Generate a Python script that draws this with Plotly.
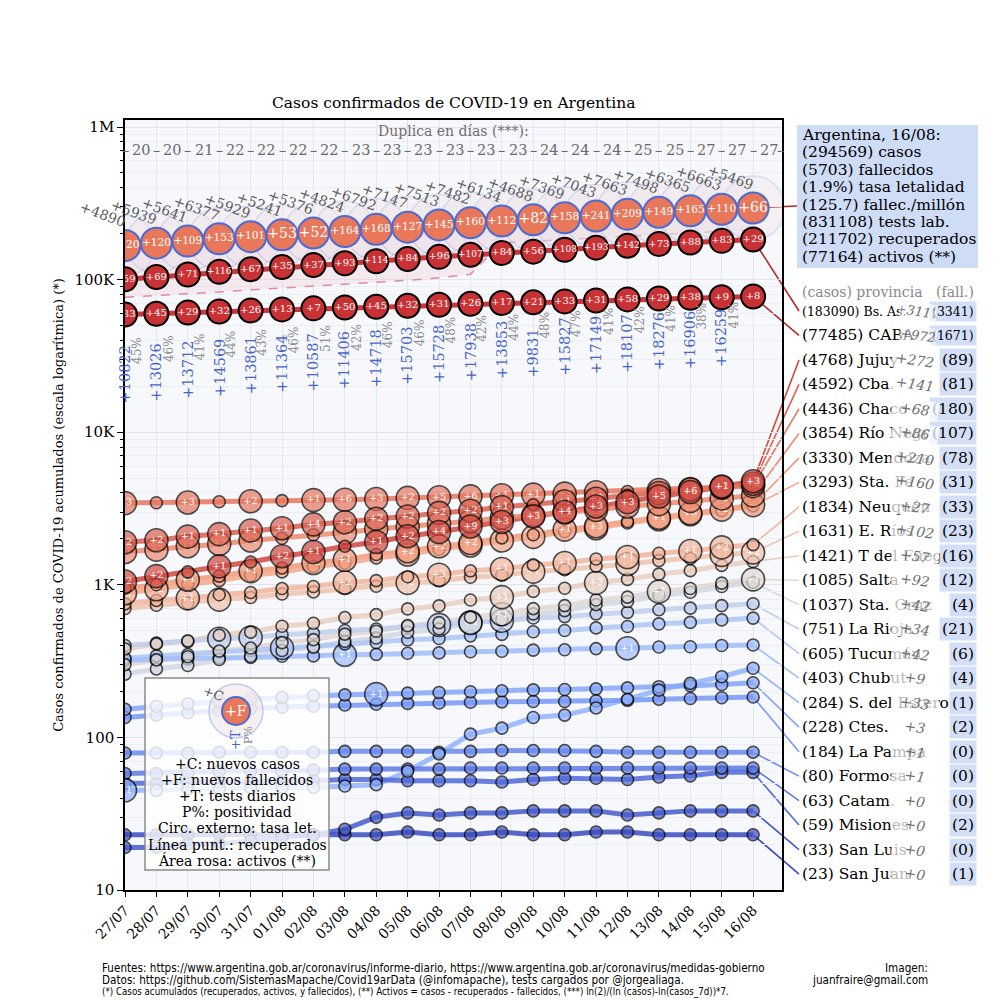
import math
import plotly.graph_objects as go

FONT = "DejaVu Serif"

# ---------------- data ----------------
dates = ["27/07", "28/07", "29/07", "30/07", "31/07", "01/08", "02/08", "03/08", "04/08", "05/08",
         "06/08", "07/08", "08/08", "09/08", "10/08", "11/08", "12/08", "13/08", "14/08", "15/08", "16/08"]

arg_cases = [167416, 173355, 178996, 185373, 191302, 196543, 201919, 206743, 213535, 220682, 228195,
             235677, 241811, 246499, 253868, 260911, 268574, 276072, 282437, 289100, 294569]
arg_new_cases = [4890, 5939, 5641, 6377, 5929, 5241, 5376, 4824, 6792, 7147, 7513, 7482, 6134, 4688,
                 7369, 7043, 7663, 7498, 6365, 6663, 5469]
arg_deaths = [3059, 3179, 3288, 3441, 3542, 3595, 3647, 3811, 3979, 4106, 4251, 4411, 4523, 4605,
              4763, 5004, 5213, 5362, 5527, 5637, 5703]
arg_new_deaths = [120, 120, 109, 153, 101, 53, 52, 164, 168, 127, 145, 160, 112, 82, 158, 241, 209,
                  149, 165, 110, 66]
arg_recovered = [76600, 78500, 80900, 83000, 85600, 88000, 90300, 93000, 95800, 99000, 103000, 108500,
                 174500, 178000, 183000, 188000, 193000, 198000, 202500, 207000, 211702]
tests_daily = [10822, 13026, 13712, 14569, 13861, 11364, 10587, 11406, 14718, 15703, 15728, 17938,
               13853, 9831, 15827, 17149, 18107, 18276, 16906, 16259]
positivity = [45, 46, 41, 44, 43, 46, 51, 42, 46, 46, 48, 42, 44, 48, 47, 41, 42, 41, 38, 41]
doubling_days = [20, 20, 21, 22, 22, 22, 22, 23, 23, 23, 23, 23, 23, 24, 24, 24, 25, 25, 27, 27, 27]

bsas_cases = [100500, 104000, 108000, 112500, 117000, 121000, 124500, 128000, 132000, 136500, 141000,
              145500, 149500, 152500, 157000, 162000, 166500, 171000, 175000, 179500, 183090]
bsas_new_deaths = [59, 69, 71, 116, 67, 35, 37, 93, 114, 84, 96, 107, 84, 56, 108, 193, 142, 73, 88, 83, 29]
caba_cases = [59000, 59800, 60800, 61800, 62800, 63800, 64800, 65600, 66400, 67400, 68500, 69500, 70300,
              71000, 72000, 73000, 74200, 75200, 76000, 76700, 77485]
caba_new_deaths = [33, 45, 29, 32, 26, 13, 7, 50, 45, 32, 31, 26, 17, 21, 33, 31, 58, 29, 38, 9, 8]

prov_names = ["Bs. As.", "CABA", "Jujuy", "Cba.", "Chaco", "Río Negro", "Mendoza", "Sta. Fe", "Neuquén",
              "E. Ríos", "T del Fuego", "Salta", "Sta. Cruz", "La Rioja", "Tucumán", "Chubut",
              "S. del Estero", "Ctes.", "La Pampa", "Formosa", "Catam.", "Misiones", "San Luis", "San Juan"]
prov_total_cases = [183090, 77485, 4768, 4592, 4436, 3854, 3330, 3293, 1834, 1631, 1421, 1085, 1037, 751,
                    605, 403, 284, 228, 184, 80, 63, 59, 33, 23]
prov_new_cases = [3117, 972, 272, 141, 68, 86, 210, 160, 27, 102, 57, 92, 42, 34, 42, 9, 33, 3, 1, 1, 0, 0, 0, 0]
prov_total_deaths = [3341, 1671, 89, 81, 180, 107, 78, 31, 33, 23, 16, 12, 4, 21, 6, 4, 1, 2, 0, 0, 0, 2, 0, 1]

jujuy = [1050, 1140, 1215, 1320, 1410, 1540, 1640, 1790, 1910, 2080, 2220, 2410, 2580, 2810, 3000, 3260, 3480, 3790, 4060, 4410, 4768]
cba = [1900, 1960, 2070, 2150, 2270, 2350, 2490, 2570, 2710, 2800, 2960, 3060, 3230, 3350, 3530, 3660, 3860, 4000, 4210, 4370, 4592]
chaco = [3430, 3450, 3460, 3500, 3530, 3560, 3590, 3610, 3650, 3710, 3750, 3800, 3860, 3900, 3960, 4040, 4090, 4180, 4240, 4330, 4436]
rio_negro = [1640, 1700, 1790, 1850, 1950, 2020, 2130, 2200, 2320, 2400, 2520, 2610, 2750, 2850, 2990, 3100, 3260, 3380, 3550, 3680, 3854]
mendoza = [950, 1000, 1080, 1140, 1230, 1290, 1390, 1460, 1580, 1660, 1790, 1880, 2030, 2130, 2300, 2420, 2600, 2750, 2950, 3110, 3330]
santa_fe = [880, 935, 1010, 1065, 1150, 1215, 1315, 1390, 1500, 1580, 1710, 1810, 1950, 2060, 2230, 2350, 2540, 2690, 2900, 3060, 3293]
neuquen = [750, 790, 815, 860, 890, 945, 975, 1035, 1065, 1130, 1165, 1235, 1270, 1350, 1390, 1475, 1520, 1610, 1665, 1760, 1834]
entre_rios = [700, 735, 758, 800, 825, 870, 898, 945, 978, 1030, 1062, 1120, 1155, 1220, 1258, 1325, 1370, 1440, 1490, 1570, 1631]
tdf = [380, 410, 430, 468, 490, 535, 560, 610, 638, 695, 728, 795, 830, 905, 950, 1030, 1085, 1175, 1238, 1340, 1421]
salta = [300, 322, 338, 368, 385, 418, 437, 475, 496, 541, 565, 614, 642, 698, 730, 795, 830, 902, 946, 1025, 1085]
santa_cruz = [260, 281, 296, 324, 340, 371, 390, 426, 448, 489, 514, 562, 590, 645, 677, 741, 777, 850, 893, 975, 1037]
la_rioja = [400, 415, 424, 443, 452, 471, 481, 502, 513, 534, 546, 569, 582, 606, 619, 645, 660, 687, 703, 730, 751]
tucuman = [330, 342, 349, 364, 371, 386, 394, 410, 419, 436, 445, 463, 473, 492, 502, 522, 533, 555, 567, 589, 605]
chubut = [320, 325, 327, 333, 334, 340, 342, 348, 350, 356, 358, 364, 367, 373, 375, 382, 384, 391, 393, 400, 403]
sde = [45, 45, 46, 46, 47, 47, 47, 48, 49, 60, 78, 105, 115, 135, 140, 156, 178, 204, 226, 250, 284]
ctes = [153, 160, 166, 172, 178, 183, 188, 190, 192, 195, 197, 199, 202, 205, 206, 208, 211, 215, 218, 222, 228]
la_pampa = [135, 140, 145, 150, 155, 158, 160, 163, 165, 167, 168, 170, 171, 172, 172, 174, 175, 178, 180, 182, 184]
formosa = [79, 79, 79, 80, 80, 80, 80, 81, 81, 81, 80, 81, 82, 82, 82, 81, 80, 80, 80, 80, 80]
catamarca = [58, 58, 59, 60, 60, 60, 61, 62, 62, 62, 62, 63, 63, 63, 63, 63, 63, 63, 63, 63, 63]
misiones = [50, 50, 51, 51, 51, 52, 52, 53, 53, 52, 52, 52, 51, 53, 54, 54, 53, 55, 56, 59, 59]
san_luis = [19, 19, 20, 20, 21, 22, 23, 25, 30, 32, 31, 32, 32, 33, 33, 33, 31, 32, 33, 33, 33]
san_juan = [23, 23, 23, 23, 23, 23, 23, 23, 23, 24, 23, 23, 24, 23, 23, 24, 24, 23, 23, 23, 23]

d_jujuy = [2, 2, 0, 1, 0, 2, 1, 0, 1, 2, 4, 9, 3, 3, 4, 3, 3, 5, 6, 1, 3]
d_cba = [2, 2, 1, 1, 1, 1, 4, 2, 2, 2, 2, 2, 1, 0, 1, 2, 0, 3, 2, 2, 2]
d_chaco = [3, 0, 3, 0, 2, 0, 1, 6, 3, 2, 5, 6, 1, 1, 3, 1, 0, 10, 21, 4, 16]
d_rio_negro = [1, 2, 1, 2, 2, 0, 0, 3, 2, 1, 2, 1, 1, 1, 1, 1, 3, 3, 1, 1, 1]
d_mendoza = [0, 0, 4, 0, 1, 0, 2, 1, 0, 2, 2, 2, 0, 0, 1, 3, 0, 1, 3, 2, 2]
d_santa_fe = [2, 2, 0, 0, 0, 0, 0, 0, 0, 1, 0, 1, 1, 1, 0, 1, 0, 3, 2, 0, 0]
d_neuquen = [0, 0, 1, 0, 0, 0, 0, 2, 0, 0, 3, 0, 1, 0, 1, 0, 1, 0, 1, 2, 0]
d_entre_rios = [0, 0, 0, 1, 0, 0, 0, 0, 0, 2, 0, 0, 0, 1, 0, 0, 1, 0, 0, 1, 2]
d_tdf = [0, 0, 0, 0, 0, 0, 0, 0, 0, 0, 0, 0, 1, 0, 0, 3, 0, 0, 0, 0, 0]
d_salta = [0, 0, 0, 0, 0, 0, 0, 0, 0, 0, 0, 0, 1, 0, 0, 0, 0, 1, 0, 0, 1]
d_santa_cruz = [0, 0, 0, 0, 0, 0, 0, 0, 0, 0, 0, 4, 0, 0, 0, 0, 0, 0, 0, 0, 0]
d_la_rioja = [0, 0, 0, 1, 1, 0, 0, 0, 0, 0, 1, 1, 1, 0, 0, 0, 0, 0, 0, 0, 0]
d_tucuman = [0, 0, 0, 0, 0, 2, 0, 0, 0, 0, 0, 0, 0, 0, 0, 0, 0, 0, 0, 0, 0]
d_chubut = [0, 0, 0, 0, 0, 0, 0, 1, 0, 0, 0, 0, 0, 0, 0, 0, 1, 0, 0, 0, 0]
d_sde = [1, 0, 0, 0, 0, 0, 0, 0, 0, 0, 0, 0, 0, 0, 0, 0, 0, 0, 0, 0, 0]
d_ctes = [0, 0, 0, 0, 0, 0, 0, 0, 1, 0, 0, 0, 0, 0, 0, 0, 0, 0, 0, 0, 0]
d_zero = [0] * 21

prov_series = [jujuy, cba, chaco, rio_negro, mendoza, santa_fe, neuquen, entre_rios, tdf, salta,
               santa_cruz, la_rioja, tucuman, chubut, sde, ctes, la_pampa, formosa, catamarca,
               misiones, san_luis, san_juan]
prov_deaths_series = [d_jujuy, d_cba, d_chaco, d_rio_negro, d_mendoza, d_santa_fe, d_neuquen,
                      d_entre_rios, d_tdf, d_salta, d_santa_cruz, d_la_rioja, d_tucuman, d_chubut,
                      d_sde, d_ctes, d_zero, d_zero, d_zero, d_zero, d_zero, d_zero]

arg_box_lines = ["Argentina, 16/08:", "(294569) casos", "(5703) fallecidos", "(1.9%) tasa letalidad",
                 "(125.7) fallec./millón", "(831108) tests lab.", "(211702) recuperados",
                 "(77164) activos (**)"]
legend_lines = ["+C: nuevos casos", "+F: nuevos fallecidos", "+T: tests diarios", "P%: positividad",
                "Circ. externo: tasa let.", "Línea punt.: recuperados", "Área rosa: activos (**)"]
footer_lines = [
    "Fuentes: https://www.argentina.gob.ar/coronavirus/informe-diario, https://www.argentina.gob.ar/coronavirus/medidas-gobierno",
    "Datos: https://github.com/SistemasMapache/Covid19arData (@infomapache), tests cargados por @jorgealiaga.",
    "(*) Casos acumulados (recuperados, activos, y fallecidos), (**) Activos = casos - recuperados - fallecidos, (***) ln(2)/(ln (casos)-ln(casos_7d))*7.",
]

# ---------------- geometry helpers ----------------
W, H = 1000, 1000
PL, PR, PT, PB = 125, 782, 120, 890
XR = [0, 20.92]
YR = [1, 6.046]
DEC = (PB - PT) / (YR[1] - YR[0])
DAYPX = (PR - PL) / (XR[1] - XR[0])
days = list(range(len(dates)))


def xp(px):
    return (px - PL) / (PR - PL)


def yp(py):
    return (PB - py) / (PB - PT)


def val_py(v):
    return PB - (math.log10(v) - YR[0]) * DEC


def day_px(d):
    return PL + (d - XR[0]) * DAYPX


CW = [(0.0, (59, 76, 192)), (0.1, (84, 112, 222)), (0.2, (114, 148, 245)), (0.3, (144, 178, 254)),
      (0.4, (176, 200, 246)), (0.5, (221, 221, 221)), (0.6, (240, 198, 176)), (0.7, (246, 168, 137)),
      (0.8, (236, 132, 104)), (0.9, (212, 82, 68)), (1.0, (180, 4, 38))]


def coolwarm(t):
    t = max(0.0, min(1.0, t))
    for (t0, c0), (t1, c1) in zip(CW[:-1], CW[1:]):
        if t <= t1:
            f = (t - t0) / (t1 - t0)
            return "rgb(%d,%d,%d)" % tuple(round(a + (b - a) * f) for a, b in zip(c0, c1))
    return "rgb(180,4,38)"


n_prov = len(prov_names)
prov_colors = [coolwarm(1 - i / (n_prov - 1)) for i in range(n_prov)]

fig = go.Figure()

# ---------------- activos area & recuperados ----------------
fig.add_trace(go.Scatter(x=days, y=arg_recovered, mode="lines",
                         line=dict(color="rgba(0,0,0,0)", width=0), hoverinfo="skip"))
fig.add_trace(go.Scatter(x=days, y=arg_cases, mode="lines", line=dict(width=0, color="rgba(0,0,0,0)"),
                         fill="tonexty", fillcolor="rgba(238,205,216,0.35)", hoverinfo="skip"))
fig.add_trace(go.Scatter(x=days, y=arg_recovered, mode="lines",
                         line=dict(color="#d98ca5", width=1.5, dash="dash"), hoverinfo="skip"))

# outer circles (tasa de letalidad)
cfr = [d / c * 100 for d, c in zip(arg_deaths, arg_cases)]
fig.add_trace(go.Scatter(x=days, y=arg_cases, mode="markers", hoverinfo="skip",
                         marker=dict(size=[c * 33 for c in cfr], color="rgba(238,226,230,0.45)",
                                     line=dict(color="rgba(120,150,225,0.35)", width=1.5))))

# ---------------- provinces ----------------
for k, (vals, dser) in enumerate(zip(prov_series, prov_deaths_series)):
    col = prov_colors[k + 2]
    fig.add_trace(go.Scatter(x=days, y=vals, mode="lines", line=dict(color=col, width=5),
                             opacity=0.85, hoverinfo="skip"))
for k, (vals, dser) in reversed(list(enumerate(zip(prov_series, prov_deaths_series)))):
    col = prov_colors[k + 2]
    fig.add_trace(go.Scatter(
        x=days, y=vals, mode="markers+text", hoverinfo="skip",
        marker=dict(size=[12 if d == 0 else 23 for d in dser], color=col,
                    line=dict(color="black", width=1.6)),
        text=["+%d" % d if d > 0 else "" for d in dser], textposition="middle center",
        textfont=dict(family=FONT, size=9.5, color="white")))

# Bs. As. and CABA
for vals, dser in ((caba_cases, caba_new_deaths), (bsas_cases, bsas_new_deaths)):
    fig.add_trace(go.Scatter(x=days, y=vals, mode="lines", line=dict(color="#c8373a", width=5),
                             hoverinfo="skip"))
    fig.add_trace(go.Scatter(
        x=days, y=vals, mode="markers+text", hoverinfo="skip",
        marker=dict(size=24, color="#c93234", line=dict(color="black", width=2)),
        text=["+%d" % d for d in dser], textposition="middle center",
        textfont=dict(family=FONT, size=[10 if d < 100 else 9 for d in dser], color="white")))

# Argentina
fig.add_trace(go.Scatter(
    x=days, y=arg_cases, mode="markers+text", hoverinfo="skip",
    marker=dict(size=31, color="#e9775a", line=dict(color="#4a6ad6", width=2)),
    text=["+%d" % d for d in arg_new_deaths], textposition="middle center",
    textfont=dict(family=FONT, size=[14 if d < 100 else 10.5 for d in arg_new_deaths], color="white")))

ann = []
shapes = []


def txt(x, y, text, size, color="black", xanchor="center", yanchor="middle", **kw):
    d = dict(x=x, y=y, xref="paper", yref="paper", text=text, showarrow=False, xanchor=xanchor,
             yanchor=yanchor, font=dict(family=kw.pop("family", FONT), size=size, color=color))
    d.update(kw)
    ann.append(d)


# daily new cases (rotated)
for k in days:
    txt(xp(day_px(k) - 23), yp(val_py(arg_cases[k]) - 31), "+%d" % arg_new_cases[k], 14, "#5a5a5a",
        textangle=20)

# tests and positivity
for k in range(len(tests_daily)):
    txt(xp(day_px(k)), yp(val_py(arg_cases[k]) + 160), "+%d" % tests_daily[k], 14.5, "#4766c8",
        yanchor="bottom", textangle=-90)
    txt(xp(day_px(k) + 12), yp(val_py(arg_cases[k]) + 121), "%d%%" % positivity[k], 12, "#8c8c8c",
        yanchor="bottom", textangle=-90)

# doubling days
txt(0.5, yp(131), "Duplica en días (***):", 14, "#707070")
for k in days:
    txt(xp(day_px(k + 0.5)), yp(150), str(doubling_days[k]), 14.5, "#6a6a6a")
for k in range(len(days) + 1):
    txt(xp(min(day_px(k), 780)), yp(150), "–", 14.5, "#6a6a6a")

# ---------------- right panel ----------------
shapes.append(dict(type="rect", xref="paper", yref="paper", x0=xp(797), x1=xp(978), y0=yp(268), y1=yp(125),
                   fillcolor="#cfdcf6", line=dict(width=0), layer="below"))
for j, line in enumerate(arg_box_lines):
    txt(xp(800), yp(135 + 17.4 * j), line, 15.5, xanchor="left")
shapes.append(dict(type="line", xref="paper", yref="paper", x0=xp(day_px(20)), y0=yp(val_py(arg_cases[-1])),
                   x1=xp(797), y1=yp(206), line=dict(color="#b22a2a", width=1.6), layer="between"))

txt(xp(800), yp(292), "(casos) provincia", 14, "#8a8a8a", xanchor="left")
txt(xp(976), yp(292), "(fall.)", 14, "#8a8a8a", xanchor="right")

all_last = [bsas_cases[-1], caba_cases[-1]] + [s[-1] for s in prov_series]
for i in range(n_prov):
    ry = 311 + 24.48 * i
    top2 = i < 2
    txt(xp(800), yp(ry), "(%d) %s" % (prov_total_cases[i], prov_names[i]), 12.5 if i == 0 else 15.5,
        xanchor="left")
    txt(xp(977), yp(ry), "(%d)" % prov_total_deaths[i], 12.5 if top2 else 15.5, xanchor="right",
        bgcolor="#d3dff7", borderpad=2)
    if top2:
        txt(xp(918), yp(ry), "<i>+%d</i>" % prov_new_cases[i], 13, "#6e6e6e",
            textangle=8, width=34, bgcolor="rgba(255,255,255,0.6)")
    else:
        txt(xp(915), yp(ry), "<i>+%d</i>" % prov_new_cases[i], 14, "#6e6e6e",
            textangle=8, width=44, bgcolor="rgba(255,255,255,0.72)")
    col = "#b22a2a" if top2 else prov_colors[i]
    shapes.append(dict(type="line", xref="paper", yref="paper",
                       x0=xp(day_px(20)), y0=yp(val_py(all_last[i])), x1=xp(799), y1=yp(ry),
                       line=dict(color=col, width=1.6), layer="between"))

# ---------------- legend box ----------------
shapes.append(dict(type="rect", xref="paper", yref="paper", x0=xp(145), x1=xp(329), y0=yp(870), y1=yp(678),
                   fillcolor="rgba(255,255,255,0.82)", line=dict(color="#8a8a8a", width=1.5), layer="above"))
cx, cy = 236, 711
shapes.append(dict(type="circle", xref="paper", yref="paper", x0=xp(cx - 27), x1=xp(cx + 27),
                   y0=yp(cy + 27), y1=yp(cy - 27), fillcolor="rgba(238,226,230,0.5)",
                   line=dict(color="rgba(120,150,225,0.45)", width=1.5), layer="above"))
shapes.append(dict(type="circle", xref="paper", yref="paper", x0=xp(cx - 14), x1=xp(cx + 14),
                   y0=yp(cy + 14), y1=yp(cy - 14), fillcolor="#e9775a",
                   line=dict(color="#4a6ad6", width=2), layer="above"))
txt(xp(cx), yp(cy), "+F", 14, "white")
txt(xp(213), yp(693), "+C", 13, "#555555", textangle=20)
txt(xp(235), yp(752), "+T", 13, "#4766c8", yanchor="bottom", textangle=-90)
txt(xp(248), yp(746), "P%", 11, "#8c8c8c", yanchor="bottom", textangle=-90)
for j, line in enumerate(legend_lines):
    txt(xp(237), yp(764 + 16.1 * j), line, 14)

# ---------------- title, footer ----------------
txt(0.5, yp(103), "Casos confirmados de COVID-19 en Argentina", 15.5)
FOOT = "DejaVu Sans Condensed, DejaVu Sans"
footer_sizes = [11.6, 11.6, 9.7]
for j, line in enumerate(footer_lines):
    txt(xp(100), yp(968 + 12 * j), line, footer_sizes[j], xanchor="left", family=FOOT)
txt(xp(930), yp(968), "Imagen:", 11.6, xanchor="right", family=FOOT)
txt(xp(930), yp(980), "juanfraire@gmail.com", 11.6, xanchor="right", family=FOOT)

minor_vals = [m * 10 ** e for e in range(1, 6) for m in range(2, 10)]

fig.update_layout(
    width=W, height=H,
    margin=dict(l=PL, r=W - PR, t=PT, b=H - PB),
    paper_bgcolor="white", plot_bgcolor="#f7f8fc",
    showlegend=False,
    annotations=ann, shapes=shapes,
    xaxis=dict(range=XR, tickmode="array", tickvals=days, ticktext=dates, tickangle=-45,
               tickfont=dict(family=FONT, size=14, color="black"),
               showline=True, linecolor="black", linewidth=1.5, mirror=True,
               ticks="outside", ticklen=5, tickcolor="black",
               showgrid=True, gridcolor="#e4e6ee", gridwidth=1, zeroline=False),
    yaxis=dict(type="log", range=YR, tickmode="array",
               tickvals=[10, 100, 1000, 10000, 100000, 1000000],
               ticktext=["10", "100", "1K", "10K", "100K", "1M"],
               tickfont=dict(family=FONT, size=15, color="black"),
               showline=True, linecolor="black", linewidth=1.5, mirror=True,
               ticks="outside", ticklen=6, tickcolor="black",
               showgrid=True, gridcolor="#e2e4ec", gridwidth=1, zeroline=False,
               minor=dict(tickmode="array", tickvals=minor_vals, ticks="outside", ticklen=3,
                          tickcolor="black", showgrid=True, gridcolor="#eceef4"),
               title=dict(text="Casos confirmados de COVID-19 acumulados (escala logarítmica) (*)",
                          font=dict(family=FONT, size=13, color="black"), standoff=8)),
)

fig.write_html("out.html", config={"displayModeBar": False},
               post_script="document.body.style.margin='0px';")
